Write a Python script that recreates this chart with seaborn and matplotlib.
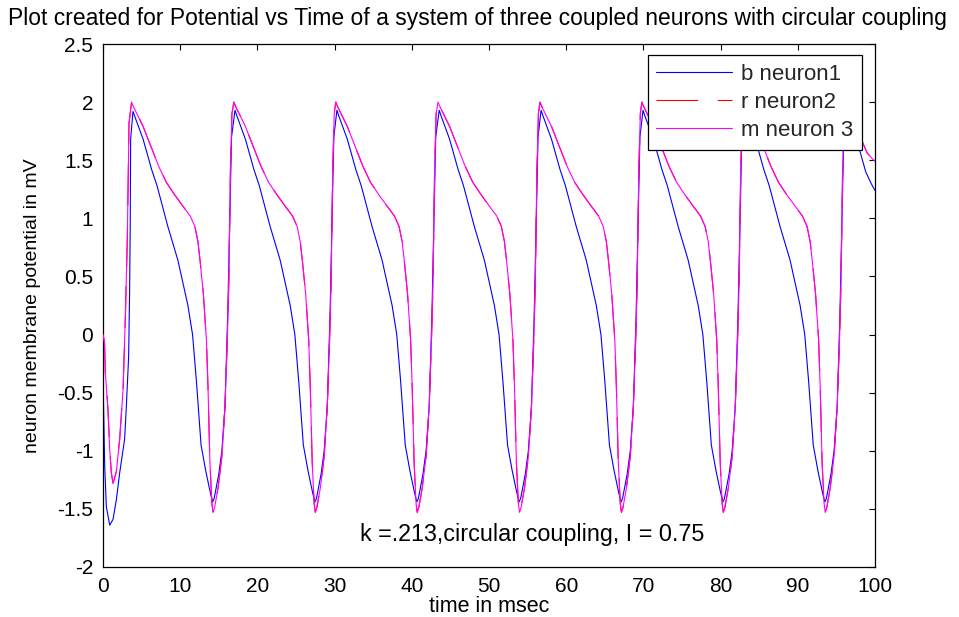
import matplotlib
matplotlib.use("Agg")
import matplotlib.pyplot as plt
import seaborn as sns
import pandas as pd
from matplotlib.ticker import FuncFormatter

sns.set_theme(style="white")
plt.rcParams['font.family'] = ['Liberation Sans', 'DejaVu Sans']
plt.rcParams['axes.unicode_minus'] = False
plt.rcParams['lines.scale_dashes'] = False

# ---------------- data ----------------
title = "Plot created for Potential vs Time of a system of three coupled neurons with circular coupling"
x_label = "time in msec"
y_label = "neuron membrane potential in mV"
note = "k =.213,circular coupling, I = 0.75"
labels = ["b neuron1", "r neuron2", "m neuron 3"]
x_ticks = [0, 10, 20, 30, 40, 50, 60, 70, 80, 90, 100]
y_ticks = [-2, -1.5, -1, -0.5, 0, 0.5, 1, 1.5, 2, 2.5]

t_neuron1 = [
    0, 0.05, 0.22, 0.43, 0.87, 1.3, 1.73, 2.16, 2.8, 3.0, 3.32, 3.45, 3.53, 3.58, 3.88,
    4.1, 5.2, 6.3, 7.0, 8.4, 9.7, 11.0, 11.6, 12.1, 12.7, 13.3, 13.9, 14.2, 14.4, 15.0, 15.4, 15.8, 16.15, 16.45, 16.65,
    17.1, 17.35, 18.45, 19.55, 20.25, 21.65, 22.95, 24.25, 24.85, 25.35, 25.95, 26.55, 27.15, 27.45, 27.65, 28.25, 28.65, 29.05, 29.4, 29.7, 29.9,
    30.3, 30.55, 31.65, 32.75, 33.45, 34.85, 36.15, 37.45, 38.05, 38.55, 39.15, 39.75, 40.35, 40.65, 40.85, 41.45, 41.85, 42.25, 42.6, 42.9, 43.1,
    43.55, 43.8, 44.9, 46.0, 46.7, 48.1, 49.4, 50.7, 51.3, 51.8, 52.4, 53.0, 53.6, 53.9, 54.1, 54.7, 55.1, 55.5, 55.85, 56.15, 56.35,
    56.75, 57.0, 58.1, 59.2, 59.9, 61.3, 62.6, 63.9, 64.5, 65.0, 65.6, 66.2, 66.8, 67.1, 67.3, 67.9, 68.3, 68.7, 69.05, 69.35, 69.55,
    69.95, 70.2, 71.3, 72.4, 73.1, 74.5, 75.8, 77.1, 77.7, 78.2, 78.8, 79.4, 80.0, 80.3, 80.5, 81.1, 81.5, 81.9, 82.25, 82.55, 82.75,
    83.15, 83.4, 84.5, 85.6, 86.3, 87.7, 89.0, 90.3, 90.9, 91.4, 92.0, 92.6, 93.2, 93.5, 93.7, 94.3, 94.7, 95.1, 95.45, 95.75, 95.95,
    96.35, 96.6, 97.7, 98.8, 99.5, 100.0,
]
v_neuron1 = [
    0, -0.53, -1.13, -1.48, -1.64, -1.59, -1.42, -1.19, -0.90, -0.65, -0.19, 0.39, 0.96, 1.68, 1.92,
    1.88, 1.68, 1.42, 1.28, 0.93, 0.64, 0.25, 0.00, -0.40, -0.95, -1.17, -1.36, -1.44, -1.41, -1.20, -1.00, -0.62, 0.15, 1.10, 1.70,
    1.93, 1.88, 1.68, 1.42, 1.28, 0.93, 0.64, 0.25, 0.00, -0.40, -0.95, -1.17, -1.36, -1.44, -1.41, -1.20, -1.00, -0.62, 0.15, 1.10, 1.70,
    1.93, 1.88, 1.68, 1.42, 1.28, 0.93, 0.64, 0.25, 0.00, -0.40, -0.95, -1.17, -1.36, -1.44, -1.41, -1.20, -1.00, -0.62, 0.15, 1.10, 1.70,
    1.93, 1.88, 1.68, 1.42, 1.28, 0.93, 0.64, 0.25, 0.00, -0.40, -0.95, -1.17, -1.36, -1.44, -1.41, -1.20, -1.00, -0.62, 0.15, 1.10, 1.70,
    1.93, 1.88, 1.68, 1.42, 1.28, 0.93, 0.64, 0.25, 0.00, -0.40, -0.95, -1.17, -1.36, -1.44, -1.41, -1.20, -1.00, -0.62, 0.15, 1.10, 1.70,
    1.93, 1.88, 1.68, 1.42, 1.28, 0.93, 0.64, 0.25, 0.00, -0.40, -0.95, -1.17, -1.36, -1.44, -1.41, -1.20, -1.00, -0.62, 0.15, 1.10, 1.70,
    1.93, 1.88, 1.68, 1.42, 1.28, 0.93, 0.64, 0.25, 0.00, -0.40, -0.95, -1.17, -1.36, -1.44, -1.41, -1.20, -1.00, -0.62, 0.15, 1.10, 1.70,
    1.93, 1.88, 1.66, 1.40, 1.30, 1.24,
]

t_neuron3 = [
    0, 0.2, 0.3, 0.65, 0.87, 1.08, 1.3, 1.73, 2.16, 2.6, 2.9, 3.15, 3.37, 3.7,
    3.95, 5.2, 6.5, 7.2, 8.2, 9.2, 10.4, 11.3, 11.9, 12.3, 12.6, 13.0, 13.4, 13.6, 13.85, 14.1, 14.25, 14.45, 14.9, 15.4, 15.8, 16.1, 16.3, 16.5, 16.7, 16.95,
    17.2, 18.45, 19.75, 20.45, 21.45, 22.45, 23.65, 24.55, 25.15, 25.55, 25.85, 26.25, 26.65, 26.85, 27.1, 27.35, 27.5, 27.7, 28.15, 28.65, 29.05, 29.35, 29.55, 29.75, 29.95, 30.15,
    30.4, 31.65, 32.95, 33.65, 34.65, 35.65, 36.85, 37.75, 38.35, 38.75, 39.05, 39.45, 39.85, 40.05, 40.3, 40.55, 40.7, 40.9, 41.35, 41.85, 42.25, 42.55, 42.75, 42.95, 43.15, 43.4,
    43.65, 44.9, 46.2, 46.9, 47.9, 48.9, 50.1, 51.0, 51.6, 52.0, 52.3, 52.7, 53.1, 53.3, 53.55, 53.8, 53.95, 54.15, 54.6, 55.1, 55.5, 55.8, 56.0, 56.2, 56.4, 56.6,
    56.85, 58.1, 59.4, 60.1, 61.1, 62.1, 63.3, 64.2, 64.8, 65.2, 65.5, 65.9, 66.3, 66.5, 66.75, 67.0, 67.15, 67.35, 67.8, 68.3, 68.7, 69.0, 69.2, 69.4, 69.6, 69.8,
    70.05, 71.3, 72.6, 73.3, 74.3, 75.3, 76.5, 77.4, 78.0, 78.4, 78.7, 79.1, 79.5, 79.7, 79.95, 80.2, 80.35, 80.55, 81.0, 81.5, 81.9, 82.2, 82.4, 82.6, 82.8, 83.0,
    83.25, 84.5, 85.8, 86.5, 87.5, 88.5, 89.7, 90.6, 91.2, 91.6, 91.9, 92.3, 92.7, 92.9, 93.15, 93.4, 93.55, 93.75, 94.2, 94.7, 95.1, 95.4, 95.6, 95.8, 96.0, 96.2,
    96.45, 97.7, 99.0, 100.0,
]
v_neuron3 = [
    0, -0.07, -0.33, -0.65, -0.99, -1.19, -1.28, -1.18, -0.90, -0.47, 0.16, 0.82, 1.82, 2.00,
    1.96, 1.79, 1.57, 1.45, 1.31, 1.21, 1.10, 1.02, 0.93, 0.80, 0.62, 0.35, -0.05, -0.45, -1.10, -1.45, -1.53, -1.49, -1.32, -1.05, -0.62, -0.05, 0.45, 1.40, 1.90, 2.00,
    1.96, 1.79, 1.57, 1.45, 1.31, 1.21, 1.10, 1.02, 0.93, 0.80, 0.62, 0.35, -0.05, -0.45, -1.10, -1.45, -1.53, -1.49, -1.32, -1.05, -0.62, -0.05, 0.45, 1.40, 1.90, 2.00,
    1.96, 1.79, 1.57, 1.45, 1.31, 1.21, 1.10, 1.02, 0.93, 0.80, 0.62, 0.35, -0.05, -0.45, -1.10, -1.45, -1.53, -1.49, -1.32, -1.05, -0.62, -0.05, 0.45, 1.40, 1.90, 2.00,
    1.96, 1.79, 1.57, 1.45, 1.31, 1.21, 1.10, 1.02, 0.93, 0.80, 0.62, 0.35, -0.05, -0.45, -1.10, -1.45, -1.53, -1.49, -1.32, -1.05, -0.62, -0.05, 0.45, 1.40, 1.90, 2.00,
    1.96, 1.79, 1.57, 1.45, 1.31, 1.21, 1.10, 1.02, 0.93, 0.80, 0.62, 0.35, -0.05, -0.45, -1.10, -1.45, -1.53, -1.49, -1.32, -1.05, -0.62, -0.05, 0.45, 1.40, 1.90, 2.00,
    1.96, 1.79, 1.57, 1.45, 1.31, 1.21, 1.10, 1.02, 0.93, 0.80, 0.62, 0.35, -0.05, -0.45, -1.10, -1.45, -1.53, -1.49, -1.32, -1.05, -0.62, -0.05, 0.45, 1.40, 1.90, 2.00,
    1.96, 1.79, 1.57, 1.45, 1.31, 1.21, 1.10, 1.02, 0.93, 0.80, 0.62, 0.35, -0.05, -0.45, -1.10, -1.45, -1.53, -1.49, -1.32, -1.05, -0.62, -0.05, 0.45, 1.40, 1.90, 2.00,
    1.96, 1.76, 1.56, 1.49,
]

# neuron 2 coincides with neuron 3 in the reference (hidden underneath it)
t_neuron2 = list(t_neuron3)
v_neuron2 = list(v_neuron3)

colors = ["#0000FF", "#FF0000", "#FF00FF"]

# ---------------- figure ----------------
FS = 15
fig = plt.figure(figsize=(9.59, 6.17), dpi=100)
ax = fig.add_axes([103 / 959, 1 - 567 / 617, (875 - 103) / 959, (567 - 44) / 617])

series = [(t_neuron1, v_neuron1, "-"), (t_neuron2, v_neuron2, (0, (30, 14))), (t_neuron3, v_neuron3, "-")]
for i, (tt, vv, ls) in enumerate(series):
    df = pd.DataFrame({"t": tt, "v": vv})
    sns.lineplot(data=df, x="t", y="v", ax=ax, color=colors[i], linewidth=0.8,
                 linestyle=ls, sort=False, estimator=None, label=labels[i], zorder=2 + i)

ax.set_xlim(0, 100)
ax.set_ylim(-2, 2.5)
ax.set_xticks(x_ticks)
ax.set_yticks(y_ticks)
ax.yaxis.set_major_formatter(FuncFormatter(lambda v, p: f"{v:g}"))
ax.xaxis.set_major_formatter(FuncFormatter(lambda v, p: f"{v:g}"))
ax.tick_params(direction="in", length=4, width=0.8, top=True, right=True,
               labelsize=FS, colors="black", pad=7)
for s in ax.spines.values():
    s.set_color("black")
    s.set_linewidth(0.9)
ax.set_facecolor("white")

ax.set_xlabel(x_label, fontsize=15.5, color="black", labelpad=0)
ax.set_ylabel(y_label, fontsize=14, color="black", labelpad=12)
fig.text(477 / 959, 1 - 18 / 617, title, ha="center", va="center", fontsize=16.5, color="black")
ax.text(33.3, -1.72, note, ha="left", va="center", fontsize=16.8, color="black")

leg = ax.legend(loc="upper right", bbox_to_anchor=((862 - 103) / 772, 1 - (55 - 44) / 523),
                borderaxespad=0, fontsize=16, handlelength=3.4, handletextpad=0.4,
                labelspacing=0.32, frameon=True, fancybox=False, framealpha=1,
                edgecolor="black", borderpad=0.4)
leg.get_frame().set_linewidth(0.9)
leg.set_zorder(10)

fig.savefig("out.png", dpi=100, facecolor="white")
